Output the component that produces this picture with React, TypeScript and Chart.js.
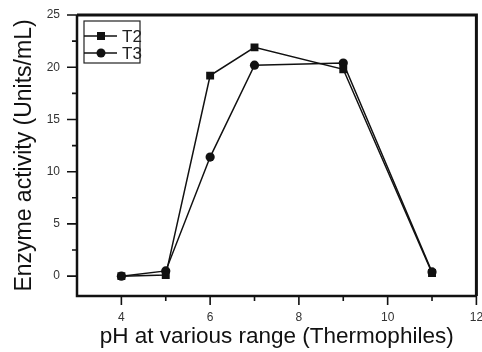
import React, { useEffect, useRef } from "react";
import { Chart, registerables } from "chart.js";

Chart.register(...registerables);

const phValues = [4, 5, 6, 7, 9, 11];
const t2Values = [0, 0.1, 19.2, 21.9, 19.8, 0.3];
const t3Values = [0, 0.5, 11.4, 20.2, 20.4, 0.4];
const xMajorTicks = [4, 6, 8, 10, 12];
const xMinorTicks = [5, 7, 9, 11];
const yMajorTicks = [0, 5, 10, 15, 20, 25];
const yMinorTicks = [2.5, 7.5, 12.5, 17.5, 22.5];
const seriesNames = ["T2", "T3"];
const xTitle = "pH at various range (Thermophiles)";
const yTitle = "Enzyme activity (Units/mL)";

const FONT = "'Liberation Sans', Arial, sans-serif";

const framePlugin = {
  id: "frameAndLegend",
  afterDraw(chart: any) {
    const { ctx, chartArea } = chart;
    const xs = chart.scales.x;
    const ys = chart.scales.y;
    ctx.save();
    ctx.strokeStyle = "#111";
    ctx.lineWidth = 1.6;
    ctx.beginPath();
    xMajorTicks.forEach((v) => {
      const px = xs.getPixelForValue(v);
      ctx.moveTo(px, chartArea.bottom);
      ctx.lineTo(px, chartArea.bottom + 9);
    });
    xMinorTicks.forEach((v) => {
      const px = xs.getPixelForValue(v);
      ctx.moveTo(px, chartArea.bottom);
      ctx.lineTo(px, chartArea.bottom + 5);
    });
    yMajorTicks.forEach((v) => {
      const py = ys.getPixelForValue(v);
      ctx.moveTo(chartArea.left, py);
      ctx.lineTo(chartArea.left - 10, py);
    });
    yMinorTicks.forEach((v) => {
      const py = ys.getPixelForValue(v);
      ctx.moveTo(chartArea.left, py);
      ctx.lineTo(chartArea.left - 5, py);
    });
    ctx.stroke();
    // frame
    ctx.lineWidth = 2.5;
    ctx.beginPath();
    ctx.moveTo(chartArea.left, chartArea.top);
    ctx.lineTo(chartArea.left, chartArea.bottom);
    ctx.lineTo(chartArea.right, chartArea.bottom);
    ctx.stroke();
    ctx.lineWidth = 3;
    ctx.beginPath();
    ctx.moveTo(chartArea.left, chartArea.top);
    ctx.lineTo(chartArea.right, chartArea.top);
    ctx.lineTo(chartArea.right, chartArea.bottom);
    ctx.stroke();

    // legend
    const bx = chartArea.left + 7;
    const by = chartArea.top + 6;
    const bw = 56;
    const bh = 42;
    ctx.lineWidth = 1.2;
    ctx.strokeStyle = "#222";
    ctx.strokeRect(bx, by, bw, bh);
    const rows = [by + 15, by + 32];
    const styles = ["rect", "circle"];
    rows.forEach((ry, i) => {
      ctx.strokeStyle = "#111";
      ctx.lineWidth = 1.5;
      ctx.beginPath();
      ctx.moveTo(bx, ry);
      ctx.lineTo(bx + 33, ry);
      ctx.stroke();
      ctx.fillStyle = "#111";
      const mx = bx + 17;
      if (styles[i] === "rect") {
        ctx.fillRect(mx - 4, ry - 4, 8, 8);
      } else {
        ctx.beginPath();
        ctx.arc(mx, ry, 4.5, 0, Math.PI * 2);
        ctx.fill();
      }
      ctx.fillStyle = "#222";
      ctx.font = `17px ${FONT}`;
      ctx.textAlign = "left";
      ctx.textBaseline = "middle";
      ctx.fillText(seriesNames[i], bx + 38, ry + 1);
    });
    ctx.restore();
  },
};

export default function App() {
  const canvasRef = useRef<HTMLCanvasElement | null>(null);

  useEffect(() => {
    const canvas = canvasRef.current;
    if (!canvas) return;
    const chart = new Chart(canvas, {
      type: "scatter",
      data: {
        datasets: [
          {
            label: seriesNames[0],
            data: phValues.map((x, i) => ({ x, y: t2Values[i] })),
            showLine: true,
            borderColor: "#111",
            backgroundColor: "#111",
            borderWidth: 1.5,
            pointStyle: "rect",
            pointRadius: 5.6,
            pointBorderWidth: 0,
          },
          {
            label: seriesNames[1],
            data: phValues.map((x, i) => ({ x, y: t3Values[i] })),
            showLine: true,
            borderColor: "#111",
            backgroundColor: "#111",
            borderWidth: 1.5,
            pointStyle: "circle",
            pointRadius: 4.6,
            pointBorderWidth: 0,
          },
        ],
      },
      plugins: [framePlugin],
      options: {
        animation: false,
        responsive: false,
        maintainAspectRatio: false,
        layout: { padding: { left: 0, top: 15, right: 1, bottom: 0 } },
        plugins: {
          legend: { display: false },
          tooltip: { enabled: false },
        },
        scales: {
          x: {
            type: "linear",
            min: 3,
            max: 12,
            afterBuildTicks: (scale: any) => {
              scale.ticks = xMajorTicks.map((v) => ({ value: v }));
            },
            afterFit: (scale: any) => {
              scale.height = 56;
              scale.paddingRight = 0;
              scale.paddingLeft = 0;
            },
            grid: {
              drawOnChartArea: false,
              drawTicks: true,
              tickLength: 9,
              tickColor: "rgba(0,0,0,0)",
            },
            border: { display: false },
            ticks: {
              color: "#333",
              font: { family: FONT, size: 12 },
              padding: 5,
              maxRotation: 0,
              autoSkip: false,
            },
            title: {
              display: true,
              text: xTitle,
              color: "#111",
              font: { family: FONT, size: 22.5 },
              padding: { top: 0, bottom: 2 },
            },
          },
          y: {
            type: "linear",
            min: -1.9,
            max: 25,
            afterBuildTicks: (scale: any) => {
              scale.ticks = yMajorTicks.map((v) => ({ value: v }));
            },
            afterFit: (scale: any) => {
              scale.width = 77;
              scale.paddingTop = 0;
              scale.paddingBottom = 0;
            },
            grid: {
              drawOnChartArea: false,
              drawTicks: true,
              tickLength: 10,
              tickColor: "rgba(0,0,0,0)",
            },
            border: { display: false },
            ticks: {
              color: "#333",
              font: { family: FONT, size: 12 },
              padding: 7,
              autoSkip: false,
            },
            title: {
              display: true,
              text: yTitle,
              color: "#111",
              font: { family: FONT, size: 23 },
              padding: { top: 11, bottom: 0 },
            },
          },
        },
      },
    } as any);
    return () => chart.destroy();
  }, []);

  return (
    <div style={{ position: "fixed", left: 0, top: 0, width: 482, height: 352, background: "#fff" }}>
      <canvas ref={canvasRef} width={482} height={352} style={{ width: 482, height: 352 }} />
    </div>
  );
}
